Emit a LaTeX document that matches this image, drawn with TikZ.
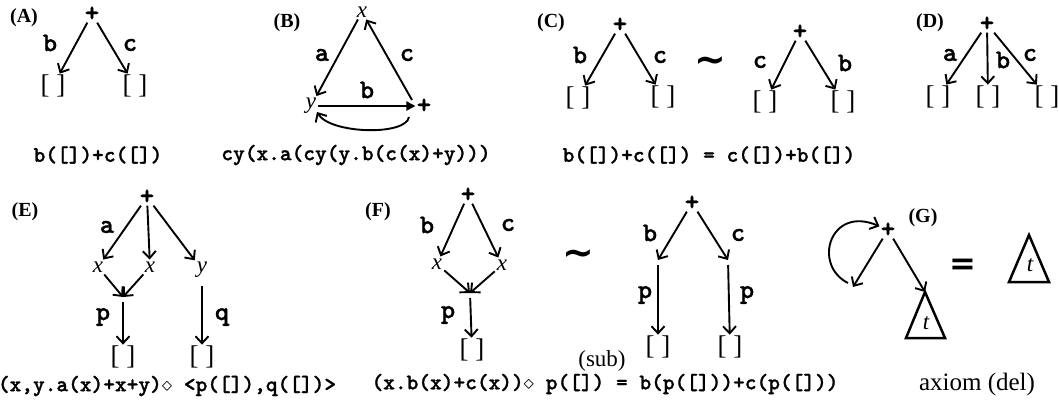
\documentclass[tikz,border=0pt]{standalone}
\usepackage{fontspec}
\setmainfont{Liberation Serif}
\setmonofont[Extension=.otf, BoldFont=lmmonolt10-bold, BoldFeatures={FakeBold=1.2}]{lmmono10-regular}
\newfontfamily\symf{DejaVu Sans}
\usetikzlibrary{arrows.meta}
\begin{document}
\begin{tikzpicture}[x=1pt,y=-1pt,
  lbl/.style={font=\fontsize{27}{27}\selectfont\ttfamily\bfseries, inner sep=0pt},
  plus/.style={font=\fontsize{28}{28}\selectfont\ttfamily\bfseries, inner sep=1pt},
  var/.style={font=\fontsize{23}{23}\selectfont\itshape, inner sep=2pt},
  hole/.style={font=\fontsize{27}{27}\selectfont, inner sep=1pt},
  tag/.style={font=\fontsize{20}{20}\selectfont\bfseries, inner sep=0pt},
  formula/.style={font=\fontsize{22.3}{22.3}\selectfont\ttfamily\bfseries, inner sep=0pt},
  serif/.style={font=\fontsize{23}{23}\selectfont, inner sep=0pt},
  simil/.style={font=\fontsize{38}{38}\selectfont\symf\bfseries, inner sep=0pt},
  arr/.style={line width=1.9pt, -{Straight Barb[length=7pt,width=13pt]}},
  farr/.style={line width=1.9pt, -{Triangle[length=9pt,width=9pt]}},
  tri/.style={line width=2.5pt, line join=miter}
]
\useasboundingbox (0,0) rectangle (1059,407);

% (A)
\node[tag] (tA) at (24,18) {(A)};
\node[plus] (ap) at (92,14) {+};
\node[lbl] (ab) at (50,43) {b};
\node[lbl] (ac) at (130,45) {c};
\node[hole] (ah1) at (53,86) {[ ]};
\node[hole] (ah2) at (135,86) {[ ]};
\draw[arr] (ap) -- (ah1);
\draw[arr] (ap) -- (ah2);
\node[formula] (fA) at (98,155) {b([])+c([])};

% (B)
\node[tag] (tB) at (287,23) {(B)};
\node[var] (bx) at (362,12) {x};
\node[var] (by) at (311,106) {y};
\node[plus] (bp) at (424,106) {+};
\node[lbl] (ba) at (322,55) {a};
\node[lbl] (bc) at (407,55) {c};
\node[lbl] (bb) at (367,90) {b};
\draw[arr] (bx) -- (by);
\draw[arr] ([xshift=-12pt,yshift=6pt]bp.center) -- (bx);
\draw[farr] (by) -- (bp);
\draw[arr] ([xshift=-15pt,yshift=-11pt]bp.center) .. controls (406,136) and (330,134) .. ([xshift=6pt,yshift=-6pt]by.center);
\node[formula] (fB) at (356,155) {cy(x.a(cy(y.b(c(x)+y)))};

% (C)
\node[tag] (tC) at (551,23) {(C)};
\node[plus] (cp1) at (620,25) {+};
\node[lbl] (cb1) at (580,55) {b};
\node[lbl] (cc1) at (660,57) {c};
\node[hole] (ch1) at (578,98) {[ ]};
\node[hole] (ch2) at (663,97) {[ ]};
\draw[arr] (cp1) -- (ch1);
\draw[arr] (cp1) -- (ch2);
\node[simil] (csim) at (710,65) {∼};
\node[plus] (cp2) at (800,32) {+};
\node[lbl] (cc2) at (760,62) {c};
\node[lbl] (cb2) at (845,63) {b};
\node[hole] (ch3) at (765,102) {[ ]};
\node[hole] (ch4) at (843,102) {[ ]};
\draw[arr] (cp2) -- (ch3);
\draw[arr] (cp2) -- (ch4);
\node[formula] (fC) at (709,155) {b([])+c([]) = c([])+b([])};

% (D)
\node[tag] (tD) at (930,23) {(D)};
\node[plus] (dp) at (987,24) {+};
\node[lbl] (da) at (950,55) {a};
\node[lbl] (db) at (1003,60) {b};
\node[lbl] (dc) at (1030,55) {c};
\node[hole] (dh1) at (938,97) {[ ]};
\node[hole] (dh2) at (988,97) {[ ]};
\node[hole] (dh3) at (1047,97) {[ ]};
\draw[arr] (dp) -- (dh1);
\draw[arr] (dp) -- (dh2);
\draw[arr] (dp) -- (dh3);

% (E)
\node[tag] (tE) at (25,212) {(E)};
\node[plus] (ep) at (147,197) {+};
\node[lbl] (ea) at (107,227) {a};
\node[var] (ex1) at (98,267) {x};
\node[var] (ex2) at (150,267) {x};
\node[var] (ey) at (202,270) {y};
\coordinate (ej) at (123,297);
\node[hole] (eh1) at (123,357) {[ ]};
\node[hole] (eh2) at (202,357) {[ ]};
\node[lbl] (epl) at (103,317) {p};
\node[lbl] (eq) at (222,317) {q};
\draw[arr] (ep) -- (ex1);
\draw[arr] (ep) -- (ex2);
\draw[arr] (ep) -- (ey);
\draw[arr] (ex1) -- (ej);
\draw[arr] (ex2) -- (ej);
\draw[arr, shorten <=5pt] (ej) -- (eh1);
\draw[arr, shorten <=6pt] (ey) -- (eh2);
\node[formula] (fE) at (167,386) {(x,y.a(x)+x+y)$\diamond$ <p([]),q([])>};

% (F)
\node[tag] (tF) at (378,212) {(F)};
\node[plus] (fp1) at (468,195) {+};
\node[lbl] (fb1) at (427,225) {b};
\node[lbl] (fc1) at (508,225) {c};
\node[var] (fx1) at (437,264) {x};
\node[var] (fx2) at (502,265) {x};
\coordinate (fj) at (470,293);
\node[lbl] (fpl) at (448,315) {p};
\node[hole] (fh1) at (472,350) {[ ]};
\draw[arr] (fp1) -- (fx1);
\draw[arr] (fp1) -- (fx2);
\draw[arr] (fx1) -- (fj);
\draw[arr] (fx2) -- (fj);
\draw[arr, shorten <=5pt] (fj) -- (fh1);
\node[simil] (fsim) at (578,258) {∼};
\node[plus] (fp2) at (692,203) {+};
\node[lbl] (fb2) at (650,233) {b};
\node[lbl] (fc2) at (738,235) {c};
\coordinate (fl) at (658,260);
\coordinate (fr) at (728,260);
\node[hole] (fh2) at (658,347) {[ ]};
\node[hole] (fh3) at (730,347) {[ ]};
\node[lbl] (fp3) at (645,295) {p};
\node[lbl] (fp4) at (747,295) {p};
\draw[arr] (fp2) -- (fl);
\draw[arr] (fp2) -- (fr);
\draw[arr, shorten <=5pt] (fl) -- (fh2);
\draw[arr, shorten <=5pt] (fr) -- (fh3);
\node[serif] (sub) at (602,361) {(sub)};
\node[formula] (fF) at (605,384) {(x.b(x)+c(x))$\diamond$ p([]) = b(p([]))+c(p([]))};

% (G)
\node[plus] (gp) at (888,230) {+};
\node[tag] (tG) at (923,218) {(G)};
\coordinate (gc) at (848,283);
\coordinate (gl) at (853,287);
\coordinate (gt1) at (925,292);
\draw[arr] (gc) .. controls (812,265) and (830,205) .. (gp);
\draw[arr] (gp) -- (gl);
\draw[arr] (gp) -- (gt1);
\draw[tri] (gt1) -- (906,338) -- (945,338) -- cycle;
\node[var] (gtt1) at (926,323) {t};
\node[inner sep=0pt, font=\fontsize{32}{32}\selectfont\symf\bfseries] (geq) at (963,267) {=};
\coordinate (gt2) at (1029,235);
\draw[tri] (gt2) -- (1009,282) -- (1049,282) -- cycle;
\node[var] (gtt2) at (1030,265) {t};
\node[font=\fontsize{25}{25}\selectfont, inner sep=0pt] (ax) at (977,384) {axiom (del)};
\end{tikzpicture}
\end{document}
